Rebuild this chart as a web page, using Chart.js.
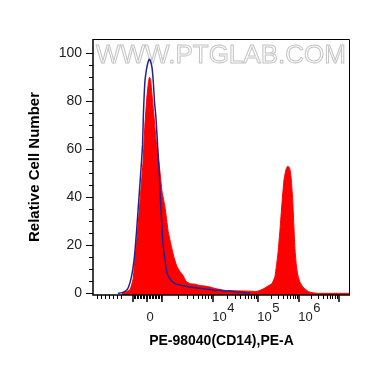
<!DOCTYPE html>
<html><head><meta charset="utf-8">
<script src="https://cdn.jsdelivr.net/npm/chart.js@4.4.1/dist/chart.umd.min.js"></script>
<style>html,body{margin:0;padding:0;background:#fff;}#wrap{width:370px;height:367px;}</style>
</head><body><div id="wrap"><canvas id="c" width="370" height="367"></canvas></div>
<script>
// x values are in display units (0–100 across the biexponential PE-A axis)
const redX = [11.3,12.8,14.4,15.6,16.3,17.3,18.5,19.5,20.2,21.0,21.6,22.0,22.4,23.0,23.7,24.7,25.9,26.9,28.0,29.2,30.4,31.5,32.7,33.9,35.0,36.2,37.7,39.7,41.6,43.6,45.5,47.5,49.4,51.4,53.3,57.2,61.1,63.8,66.2,68.1,69.7,70.8,72.0,72.8,73.5,74.3,75.1,75.8,76.5,77.0,77.7,78.2,78.6,79.1,79.6,80.4,81.3,82.5,83.9,85.6,87.2,100];
const redY = [0,0.5,1.5,6,13.8,25,41,55,70,82,88,89.8,89,82,74,62,52,42,36,26,20,15,11,9,7.5,5,4,3.8,3.2,3,2.6,2,1.6,1.2,1.1,1,0.9,0.8,1.8,3,4.2,7,17,27,37,47,51.5,52.9,52,49,39,27,18,12,8,5,3.2,1.8,0.7,0.2,0,0];
const blueX = [9.7,11.3,12.8,13.8,15.0,16.0,16.9,17.9,18.7,19.3,19.6,20.2,20.8,21.4,21.9,22.4,23.0,23.5,23.9,24.5,25.1,25.7,26.1,26.7,27.2,28.0,28.8,29.6,30.7,32.3,33.9,35.8,37.7,39.7,41.6,43.6,45.5,47.5,49.4,51.4,53.3,55.3,57.2,59.1,61.1];
const blueY = [0,0.3,1,2.5,7,14,25,40,52,62,74,88,93,96,97.3,96.5,93.5,87.3,80,73,62,52,42,30,21,14,8.5,6.5,5,3.8,3.4,3,2.6,2.3,2.1,1.8,1.6,1.2,1.3,0.9,1.0,0.6,0.4,0.2,0];
const yTickValues = [0,20,40,60,80,100];
const yTickLabels = ['0','20','40','60','80','100'];
// axis decades (display units): -10^3, 0, 10^3, 10^4, 10^5, 10^6, 10^7
const xMajor = [15.37,21.17,26.96,46.81,64.32,80.27,95.53];
const xLeftMinor = [1.56,3.11,4.67,6.23,7.78,9.34,10.89];
const xLabels = [{v:21.17,base:'0',exp:''},{v:46.81,base:'10',exp:'4'},{v:64.32,base:'10',exp:'5'},{v:80.27,base:'10',exp:'6'}];
const FONT = "'Liberation Sans', Arial, sans-serif";

function xMinorTicks(){
  const t = xLeftMinor.slice();
  for (let i=1;i<20;i++) t.push(xMajor[0] + (xMajor[2]-xMajor[0])*i/20);
  for (let d=2; d<xMajor.length-1; d++){
    for (let m=2;m<=9;m++) t.push(xMajor[d] + Math.log10(m)*(xMajor[d+1]-xMajor[d]));
  }
  return t;
}

const axisPlugin = {
  id:'axisPlugin',
  beforeDatasetsDraw(chart){
    const ctx = chart.ctx, a = chart.chartArea;
    ctx.save();
    ctx.font = "26px " + FONT;
    ctx.textBaseline = 'middle';
    ctx.textAlign = 'left';
    ctx.strokeStyle = '#c4c4c4';
    ctx.lineWidth = 1;
    ctx.strokeText('WWW.PTGLAB.COM', a.left+3, 56);
    ctx.restore();
  },
  afterDatasetsDraw(chart){
    const ctx = chart.ctx, a = chart.chartArea;
    const xs = chart.scales.x, ys = chart.scales.y;
    ctx.save();
    ctx.strokeStyle = '#000';
    ctx.lineWidth = 1;
    ctx.beginPath();
    ctx.moveTo(a.left, a.top+0.5); ctx.lineTo(a.right-0.5, a.top+0.5); ctx.lineTo(a.right-0.5, a.bottom);
    ctx.stroke();
    ctx.lineWidth = 1.5;
    ctx.beginPath();
    ctx.moveTo(a.left, a.top); ctx.lineTo(a.left, a.bottom); ctx.lineTo(a.right, a.bottom);
    ctx.stroke();
    ctx.lineWidth = 1;
    ctx.beginPath();
    for (let v=0; v<=100; v+=5){
      const y = Math.round(ys.getPixelForValue(v))+0.5;
      const len = (v%20===0)?7:4;
      ctx.moveTo(a.left-len, y); ctx.lineTo(a.left, y);
    }
    xMinorTicks().forEach(v=>{
      const x = Math.round(xs.getPixelForValue(v))+0.5;
      ctx.moveTo(x, a.bottom); ctx.lineTo(x, a.bottom+4);
    });
    ctx.stroke();
    ctx.lineWidth = 1.5;
    ctx.beginPath();
    xMajor.forEach(v=>{
      const x = Math.round(xs.getPixelForValue(v));
      ctx.moveTo(x, a.bottom); ctx.lineTo(x, a.bottom+7);
    });
    ctx.stroke();
    ctx.fillStyle = '#222';
    ctx.textBaseline = 'middle';
    ctx.textAlign = 'left';
    xLabels.forEach(l=>{
      const x = xs.getPixelForValue(l.v) - 1;
      ctx.font = "13px " + FONT;
      ctx.fillText(l.base, x, 317);
      if (l.exp){
        const w = ctx.measureText(l.base).width;
        ctx.fillText(l.exp, x+w+0.5, 308);
      }
    });
    ctx.restore();
  }
};

new Chart(document.getElementById('c'), {
  type:'line',
  data:{datasets:[
    {label:'control', data: blueX.map((x,i)=>({x, y: blueY[i]})), borderColor:'#23238f', borderWidth:1.5, fill:false, pointRadius:0, tension:0.15},
    {label:'CD14', data: redX.map((x,i)=>({x, y: redY[i]})), borderColor:'#ff0000', backgroundColor:'#ff0000', borderWidth:1, fill:'start', pointRadius:0, tension:0.15}
  ]},
  options:{
    responsive:false, devicePixelRatio:1, animation:false,
    layout:{padding:{top:39,right:20,left:0,bottom:0}},
    plugins:{legend:{display:false}, tooltip:{enabled:false}},
    scales:{
      x:{type:'linear', min:0, max:100,
        grid:{display:false, drawTicks:false}, border:{display:false},
        ticks:{display:false},
        title:{display:true, text:'PE-98040(CD14),PE-A', color:'#000', font:{family:FONT, size:14, weight:'bold'}, padding:{top:0,bottom:17}},
        afterFit(s){ s.height = 72; }
      },
      y:{type:'linear', min:-0.7, max:105.7,
        grid:{display:false, drawTicks:false}, border:{display:false},
        afterBuildTicks(s){ s.ticks = yTickValues.map(v=>({value:v})); },
        ticks:{color:'#222', font:{family:FONT, size:14}, padding:11,
          callback:(v)=>{ const i = yTickValues.indexOf(v); return i>=0 ? yTickLabels[i] : ''; }},
        title:{display:true, text:'Relative Cell Number', color:'#000', font:{family:FONT, size:15, weight:'bold'}, padding:{top:26,bottom:0}},
        afterFit(s){ s.width = 93; }
      }
    }
  },
  plugins:[axisPlugin]
});
</script></body></html>
